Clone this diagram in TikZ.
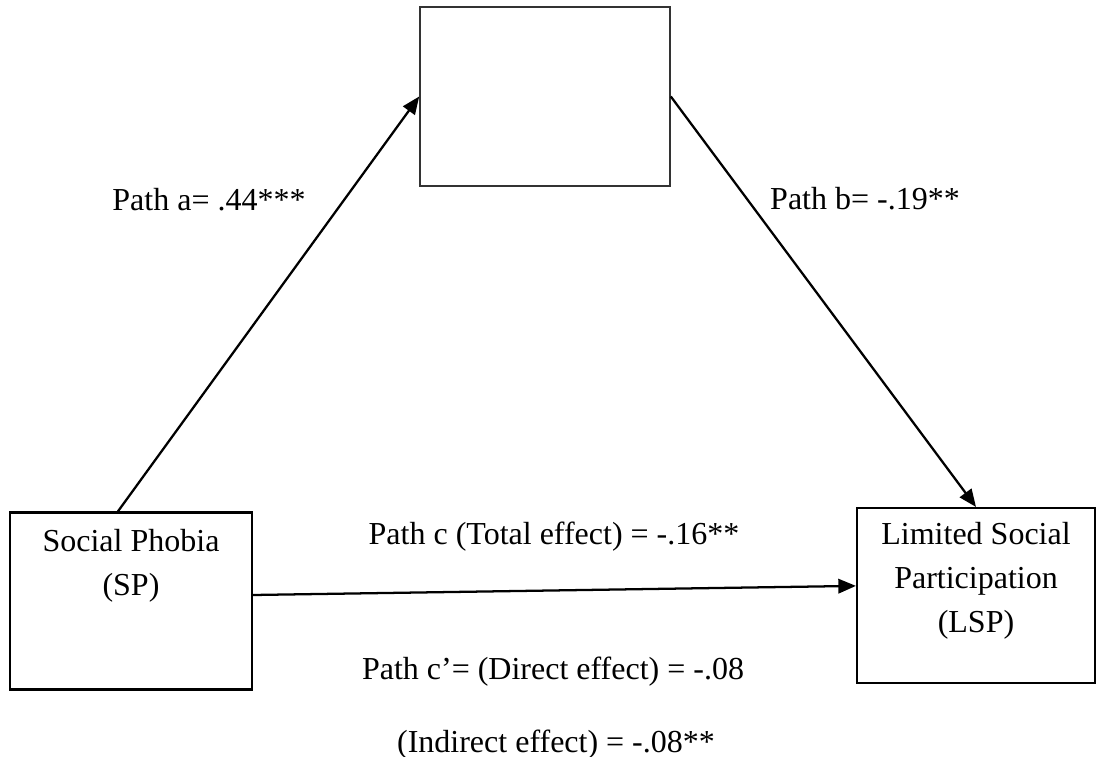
\documentclass[tikz,border=0pt]{standalone}
\usepackage{fontspec}
\setmainfont{Liberation Serif}
\usetikzlibrary{positioning,arrows.meta}

\begin{document}
\begin{tikzpicture}[
    >={Triangle[length=6.6pt,width=5.4pt]},
    var/.style={rectangle,draw,line width=0.8pt,inner sep=0pt},
    vartext/.style={align=center,font=\fontsize{12}{16.5}\selectfont,inner sep=0pt},
    effect/.style={->,line width=0.85pt},
    coef/.style={font=\fontsize{12}{14}\selectfont,inner sep=0pt},
    x=0.375pt, y=-0.375pt]
  \useasboundingbox (0,0) rectangle (1098,757);

  % ---- the three variables ----
  \node[var,minimum width=90.75pt,minimum height=66.4pt] (sp)  at (131,601)  {};
  \node[var,line width=0.6pt,draw=black!80,minimum width=93.75pt,minimum height=67.1pt] (med) at (545,96.5) {};
  \node[var,minimum width=89.25pt,minimum height=65.6pt] (lsp) at (976,595.5) {};
  \node[vartext] (sptext)  at (131,566) {Social Phobia\\(SP)};
  \node[vartext] (lsptext) at (976,581) {Limited Social\\Participation\\(LSP)};

  % ---- paths ----
  \draw[effect] ([xshift=-4.9pt]sp.north) -- (med.west);
  \draw[effect] (med.east) -- (lsp.north);
  \draw[effect] ([yshift=2.25pt]sp.east) -- ([yshift=3.6pt]lsp.west);

  % ---- coefficients ----
  \node[coef] (pa)  at (209,200) {Path a= .44***};
  \node[coef] (pb)  at (865,199) {Path b= -.19**};
  \node[coef] (pc)  at (554,537) {Path c (Total effect) = -.16**};
  \node[coef] (pcd) at (553,672) {Path c'= (Direct effect) = -.08};
  \node[coef] (ind) at (556,745) {(Indirect effect) = -.08**};
\end{tikzpicture}
\end{document}
